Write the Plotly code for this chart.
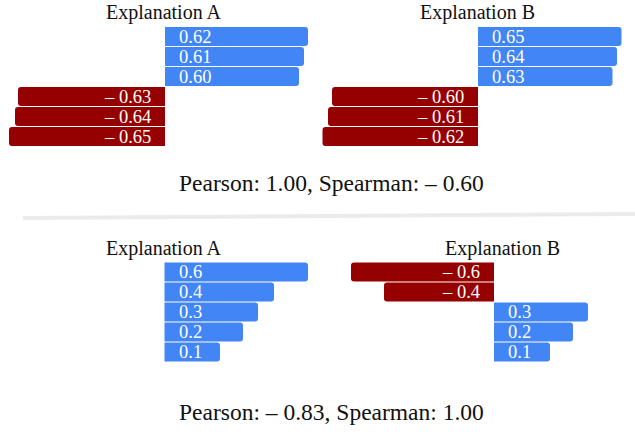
import plotly.graph_objects as go

# ---------------- data ----------------
# printed attribution values (labels) for each explanation
top_a_values = [0.62, 0.61, 0.60, -0.63, -0.64, -0.65]
top_b_values = [0.65, 0.64, 0.63, -0.60, -0.61, -0.62]
bottom_a_values = [0.6, 0.4, 0.3, 0.2, 0.1]
bottom_b_values = [-0.6, -0.4, 0.3, 0.2, 0.1]

# bar lengths as drawn in the source (illustrative, not proportional to labels)
top_a_bars = [143, 139, 134, -147, -150, -156]
top_b_bars = [143.5, 139, 134.5, -146, -150, -155.5]
bottom_a_bars = [143.5, 109.5, 93.5, 78.5, 55.5]
bottom_b_bars = [-143, -110, 94, 79, 56]

panel_titles = ["Explanation A", "Explanation B", "Explanation A", "Explanation B"]
pearson = [1.00, -0.83]
spearman = [-0.60, 1.00]

# ---------------- style ----------------
W, H = 635, 434
BLUE = "#4285F4"
RED = "#950000"
SERIF = "Liberation Serif, Times New Roman, serif"


def fmt(v, nd):
    s = f"{abs(v):.{nd}f}"
    return s if v >= 0 else "\u2013 " + s


def px(x):
    return x / W


def py(y):
    return 1 - y / H


# panel geometry: (x-domain px, zero px, top px, bottom px, decimals)
panels = [
    dict(values=top_a_values, bars=top_a_bars, xd=(0, 315), zero=165, top=26.5, bot=146.5, nd=2,
         title_x=164, title_y=12.5),
    dict(values=top_b_values, bars=top_b_bars, xd=(315, 635), zero=478, top=26.5, bot=146.5, nd=2,
         title_x=477.5, title_y=12.5),
    dict(values=bottom_a_values, bars=bottom_a_bars, xd=(0, 315), zero=164.5, top=262, bot=362, nd=1,
         title_x=164, title_y=248),
    dict(values=bottom_b_values, bars=bottom_b_bars, xd=(315, 635), zero=494, top=262, bot=362, nd=1,
         title_x=502.5, title_y=248),
]

fig = go.Figure()
annotations = []
layout_axes = {}

for i, p in enumerate(panels):
    n = len(p["values"])
    sx = "" if i == 0 else str(i + 1)
    xa, ya = "x" + sx, "y" + sx
    rows = list(range(n))
    colors = [BLUE if v >= 0 else RED for v in p["values"]]
    fig.add_trace(go.Bar(
        x=p["bars"], y=rows, orientation="h", width=0.95,
        marker=dict(color=colors, line=dict(width=0), cornerradius=3),
        xaxis=xa, yaxis=ya, hoverinfo="skip", showlegend=False,
    ))
    x0, x1 = p["xd"]
    layout_axes["xaxis" + sx] = dict(
        domain=[px(x0), px(x1)], range=[x0 - p["zero"], x1 - p["zero"]],
        visible=False, fixedrange=True, anchor=ya,
    )
    layout_axes["yaxis" + sx] = dict(
        domain=[py(p["bot"]), py(p["top"])], range=[n - 0.5, -0.5],
        visible=False, fixedrange=True, anchor=xa,
    )
    for r, v in zip(rows, p["values"]):
        annotations.append(dict(
            x=0, y=r, xref=xa, yref=ya, text=fmt(v, p["nd"]), showarrow=False,
            xanchor="left" if v >= 0 else "right", yanchor="middle",
            xshift=12 if v >= 0 else -12,
            font=dict(family=SERIF, size=18.5, color="white"),
        ))
    annotations.append(dict(
        x=px(p["title_x"]), y=py(p["title_y"]), xref="paper", yref="paper",
        text=panel_titles[i], showarrow=False, xanchor="center", yanchor="middle",
        font=dict(family=SERIF, size=20, color="#111111"),
    ))

corr_y = [183, 412]
for k in range(2):
    annotations.append(dict(
        x=px(331.5), y=py(corr_y[k]), xref="paper", yref="paper",
        text=f"Pearson: {fmt(pearson[k], 2)}, Spearman: {fmt(spearman[k], 2)}",
        showarrow=False, xanchor="center", yanchor="middle",
        font=dict(family=SERIF, size=23.5, color="#111111"),
    ))

fig.update_layout(
    width=W, height=H, margin=dict(l=0, r=0, t=0, b=0),
    paper_bgcolor="white", plot_bgcolor="white",
    barmode="overlay", annotations=annotations,
    shapes=[dict(type="line", xref="paper", yref="paper",
                 x0=px(23), y0=py(218), x1=px(635), y1=py(214),
                 line=dict(color="#ebebeb", width=4))],
    **layout_axes,
)

fig.write_html(
    "out.html",
    config={"displayModeBar": False},
    post_script="document.body.style.margin='0';document.body.style.overflow='hidden';",
)
